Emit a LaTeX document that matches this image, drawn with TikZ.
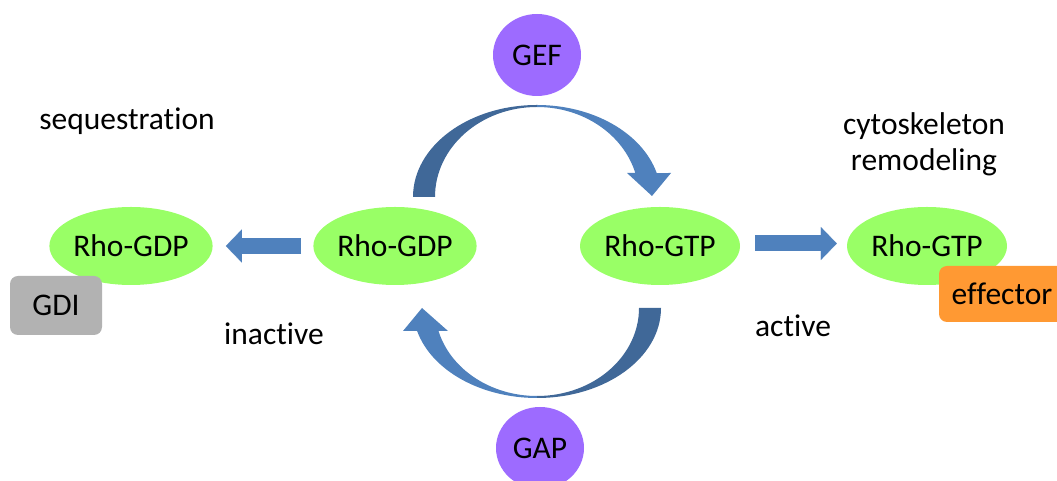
\documentclass[tikz,border=0pt]{standalone}
\usepackage{fontspec}
\setmainfont[Ligatures={NoCommon,NoContextual}]{Carlito}
\usetikzlibrary{shapes.geometric,arrows.meta}
\definecolor{rhogreen}{RGB}{153,255,102}
\definecolor{regpurple}{RGB}{157,107,255}
\definecolor{gdigray}{RGB}{178,178,178}
\definecolor{efforange}{RGB}{255,153,51}
\definecolor{arrowblue}{RGB}{79,129,189}
\definecolor{arcdark}{RGB}{64,104,152}
\begin{document}
\begin{tikzpicture}[x=1pt,y=1pt,
  every node/.style={font=\fontsize{31.5}{35}\selectfont},
  rho/.style={ellipse, fill=rhogreen, minimum width=160pt, minimum height=78pt, inner sep=0pt},
  reg/.style={ellipse, fill=regpurple, minimum width=88pt, minimum height=82pt, inner sep=0pt},
  lbl/.style={inner sep=0pt, anchor=base, align=center},
  partner/.style={rectangle, rounded corners=8pt, inner sep=0pt},
  blockarrow/.style={line width=16pt, draw=arrowblue, -{Triangle[length=16pt,width=33pt,line width=0.1pt]}}
]
\useasboundingbox (0,0) rectangle (1057,481);
\clip (0,0) rectangle (1057,481);

% curved cycle arrows
\fill[arcdark] (413,284) arc[start angle=180,end angle=90,x radius=124,y radius=92]
  -- (537,374) arc[start angle=90,end angle=180,x radius=102,y radius=90] -- cycle;
\fill[arrowblue] (537,376) arc[start angle=90,end angle=15.1,x radius=124,y radius=92]
  -- (671,308) -- (652,285) -- (627,308) -- (635.3,308)
  arc[start angle=15.47,end angle=90,x radius=102,y radius=90] -- cycle;
\fill[arcdark] (661,173) arc[start angle=0,end angle=-90,x radius=124,y radius=90]
  -- (537,85) arc[start angle=-90,end angle=0,x radius=102,y radius=88] -- cycle;
\fill[arrowblue] (537,83) arc[start angle=-90,end angle=-165.2,x radius=124,y radius=90]
  -- (403,150) -- (422,173) -- (448,150) -- (438.5,150)
  arc[start angle=-164.85,end angle=-90,x radius=102,y radius=88] -- cycle;

% regulators
\node[reg] (gef) at (537,426) {GEF};
\node[reg] (gap) at (540,33) {GAP};

% Rho states
\node[rho, minimum width=162pt] (gdp1) at (131,235) {Rho-GDP};
\node[rho, minimum width=156pt] (gdp2) at (395,235) {Rho-GDP};
\node[rho] (gtp1) at (660,235) {Rho-GTP};
\node[rho] (gtp2) at (927,235) {Rho-GTP};

% partners
\node[partner, fill=gdigray, minimum width=92pt, minimum height=59pt] (gdi) at (56,175.5) {GDI};
\node[partner, fill=efforange, minimum width=126pt, minimum height=56pt] (eff) at (1002,187) {ef\kern0pt fector};

% straight arrows
\draw[blockarrow] ([xshift=-12pt]gdp2.west) -- ([xshift=13pt]gdp1.east);
\draw[blockarrow] ([xshift=15pt,yshift=2.5pt]gtp1.east) -- ([xshift=-10pt,yshift=2.5pt]gtp2.west);

% labels
\node[lbl] (seq) at (127,351) {sequestrat\kern0pt ion};
\node[lbl] (cyto) at (924,346) {cytoskeleton};
\node[lbl] (remod) at (924,310) {remodeling};
\node[lbl] (inact) at (274,136) {inact\kern0pt ive};
\node[lbl] (act) at (793,144) {act\kern0pt ive};
\end{tikzpicture}
\end{document}
